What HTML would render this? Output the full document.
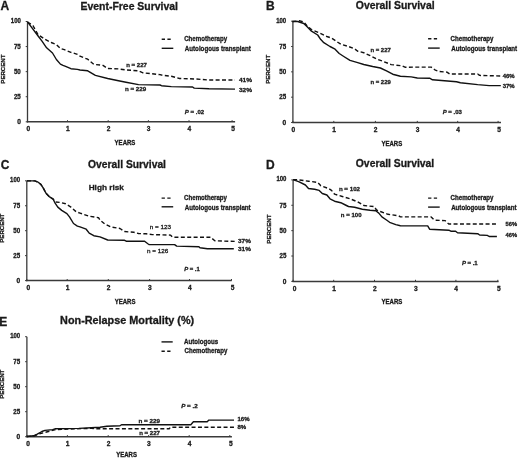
<!DOCTYPE html>
<html><head><meta charset="utf-8"><style>
html,body{margin:0;padding:0;background:#fff;}
body{width:520px;height:458px;overflow:hidden;}
svg{display:block;font-family:"Liberation Sans", sans-serif;will-change:transform;filter:blur(0.45px);}
text{fill:#1a1a1a;stroke:#1a1a1a;stroke-width:0.3px;}
</style></head><body>
<svg width="520" height="458" viewBox="0 0 520 458">
<rect width="520" height="458" fill="#fff"/>
<line x1="27.5" y1="21.5" x2="27.5" y2="122.39999999999999" stroke="#3a3a3a" stroke-width="1.3"/>
<line x1="26.9" y1="121.8" x2="235.1" y2="121.8" stroke="#3a3a3a" stroke-width="1.5"/>
<line x1="25.7" y1="121.8" x2="27.5" y2="121.8" stroke="#3a3a3a" stroke-width="1.0"/>
<text x="20.8" y="124.1" font-size="6.6" font-weight="bold" text-anchor="end">0</text>
<line x1="25.7" y1="96.725" x2="27.5" y2="96.725" stroke="#3a3a3a" stroke-width="1.0"/>
<text x="20.8" y="99.02499999999999" font-size="6.6" font-weight="bold" text-anchor="end" textLength="6.9" lengthAdjust="spacingAndGlyphs">25</text>
<line x1="25.7" y1="71.65" x2="27.5" y2="71.65" stroke="#3a3a3a" stroke-width="1.0"/>
<text x="20.8" y="73.95" font-size="6.6" font-weight="bold" text-anchor="end" textLength="6.9" lengthAdjust="spacingAndGlyphs">50</text>
<line x1="25.7" y1="46.575" x2="27.5" y2="46.575" stroke="#3a3a3a" stroke-width="1.0"/>
<text x="20.8" y="48.875" font-size="6.6" font-weight="bold" text-anchor="end" textLength="6.9" lengthAdjust="spacingAndGlyphs">75</text>
<line x1="25.7" y1="21.5" x2="27.5" y2="21.5" stroke="#3a3a3a" stroke-width="1.0"/>
<text x="20.8" y="23.0" font-size="6.6" font-weight="bold" text-anchor="end" textLength="10.0" lengthAdjust="spacingAndGlyphs">100</text>
<line x1="27.5" y1="120.2" x2="27.5" y2="121.8" stroke="#3a3a3a" stroke-width="1.0"/>
<text x="28.3" y="131.0" font-size="6.6" font-weight="bold" text-anchor="middle">0</text>
<line x1="67.5" y1="120.2" x2="67.5" y2="121.8" stroke="#3a3a3a" stroke-width="1.0"/>
<text x="67.8" y="131.0" font-size="6.6" font-weight="bold" text-anchor="middle">1</text>
<line x1="108.2" y1="120.2" x2="108.2" y2="121.8" stroke="#3a3a3a" stroke-width="1.0"/>
<text x="108.5" y="131.0" font-size="6.6" font-weight="bold" text-anchor="middle">2</text>
<line x1="148.4" y1="120.2" x2="148.4" y2="121.8" stroke="#3a3a3a" stroke-width="1.0"/>
<text x="148.7" y="131.0" font-size="6.6" font-weight="bold" text-anchor="middle">3</text>
<line x1="189.0" y1="120.2" x2="189.0" y2="121.8" stroke="#3a3a3a" stroke-width="1.0"/>
<text x="189.3" y="131.0" font-size="6.6" font-weight="bold" text-anchor="middle">4</text>
<line x1="232.1" y1="120.2" x2="232.1" y2="121.8" stroke="#3a3a3a" stroke-width="1.0"/>
<text x="233.1" y="131.0" font-size="6.6" font-weight="bold" text-anchor="middle">5</text>
<text x="114.6" y="145.0" font-size="6.6" font-weight="bold" text-anchor="start" textLength="20.8" lengthAdjust="spacingAndGlyphs">YEARS</text>
<text transform="translate(5.0,69.15) rotate(-90)" x="0" y="0" font-size="6.2" font-weight="bold" text-anchor="middle" textLength="29" lengthAdjust="spacingAndGlyphs">PERCENT</text>
<text x="0.5" y="10.2" font-size="12" font-weight="bold" text-anchor="start" stroke="#111" stroke-width="0.3">A</text>
<text x="80.5" y="9.7" font-size="10.0" font-weight="bold" text-anchor="start" textLength="97.5" lengthAdjust="spacingAndGlyphs" stroke="#111" stroke-width="0.75">Event-Free Survival</text>
<polyline points="27.5,22 32.9,25.5 38.1,34.7 44.7,39.2 51.2,42.5 56.4,44.5 60.4,48.4 64.3,49.7 70.9,52.3 77.4,54.3 80,56.2 87.7,59.2 93.8,64.3 103,65.4 107.7,68.5 118.5,68.9 126,70 138.5,70.8 143,72.8 160,74.6 161.5,75 171.3,76.3 179.5,78.5 195.9,79 209,80 235,80" fill="none" stroke="#111" stroke-width="1.4" stroke-linejoin="round" stroke-dasharray="4,2.4"/>
<polyline points="27.5,21.8 38.1,36 42,41.2 46.6,47.8 52.5,53 56.4,59.5 60.4,64.1 63,65.4 65.6,66.4 70.9,68.7 77.4,69.4 80,70 87.7,70.8 95.4,75.4 107.7,78.5 118.5,80.8 126,82.3 138.5,84.6 160,85 161.5,85.7 171.3,86.6 192.6,87 194.2,88.1 209,88.8 235,89.1" fill="none" stroke="#111" stroke-width="1.4" stroke-linejoin="round"/>
<line x1="161.7" y1="39.2" x2="171.2" y2="39.2" stroke="#151515" stroke-width="1.4" stroke-dasharray="3.3,2.4"/>
<line x1="161.7" y1="48.3" x2="173.29999999999998" y2="48.3" stroke="#151515" stroke-width="1.4"/>
<text x="184.2" y="41.0" font-size="6.8" font-weight="bold" text-anchor="start" textLength="42.9" lengthAdjust="spacingAndGlyphs">Chemotherapy</text>
<text x="184.79999999999998" y="51.099999999999994" font-size="6.8" font-weight="bold" text-anchor="start" textLength="66.0" lengthAdjust="spacingAndGlyphs">Autologous transplant</text>
<text x="126.2" y="67.3" font-size="6.2" font-weight="bold" text-anchor="start" textLength="20.7" lengthAdjust="spacingAndGlyphs">n = 227</text>
<text x="125.0" y="91.4" font-size="6.2" font-weight="bold" text-anchor="start" textLength="21.2" lengthAdjust="spacingAndGlyphs">n = 229</text>
<text x="239.0" y="82.1" font-size="6.2" font-weight="bold" text-anchor="start" textLength="13" lengthAdjust="spacingAndGlyphs">41%</text>
<text x="239.0" y="91.6" font-size="6.2" font-weight="bold" text-anchor="start" textLength="13" lengthAdjust="spacingAndGlyphs">32%</text>
<text x="184.8" y="114.4" font-size="6.2" font-weight="bold" text-anchor="start" textLength="19.4" lengthAdjust="spacingAndGlyphs"><tspan font-style="italic">P</tspan> = .02</text>
<line x1="292.9" y1="21.2" x2="292.9" y2="123.1" stroke="#3a3a3a" stroke-width="1.3"/>
<line x1="292.29999999999995" y1="122.5" x2="501.0" y2="122.5" stroke="#3a3a3a" stroke-width="1.5"/>
<line x1="291.09999999999997" y1="122.5" x2="292.9" y2="122.5" stroke="#3a3a3a" stroke-width="1.0"/>
<text x="286.2" y="124.8" font-size="6.6" font-weight="bold" text-anchor="end">0</text>
<line x1="291.09999999999997" y1="97.175" x2="292.9" y2="97.175" stroke="#3a3a3a" stroke-width="1.0"/>
<text x="286.2" y="99.475" font-size="6.6" font-weight="bold" text-anchor="end" textLength="6.9" lengthAdjust="spacingAndGlyphs">25</text>
<line x1="291.09999999999997" y1="71.85" x2="292.9" y2="71.85" stroke="#3a3a3a" stroke-width="1.0"/>
<text x="286.2" y="74.14999999999999" font-size="6.6" font-weight="bold" text-anchor="end" textLength="6.9" lengthAdjust="spacingAndGlyphs">50</text>
<line x1="291.09999999999997" y1="46.525000000000006" x2="292.9" y2="46.525000000000006" stroke="#3a3a3a" stroke-width="1.0"/>
<text x="286.2" y="48.825" font-size="6.6" font-weight="bold" text-anchor="end" textLength="6.9" lengthAdjust="spacingAndGlyphs">75</text>
<line x1="291.09999999999997" y1="21.200000000000003" x2="292.9" y2="21.200000000000003" stroke="#3a3a3a" stroke-width="1.0"/>
<text x="286.2" y="22.700000000000003" font-size="6.6" font-weight="bold" text-anchor="end" textLength="10.0" lengthAdjust="spacingAndGlyphs">100</text>
<line x1="292.9" y1="120.9" x2="292.9" y2="122.5" stroke="#3a3a3a" stroke-width="1.0"/>
<text x="293.4" y="131.7" font-size="6.6" font-weight="bold" text-anchor="middle">0</text>
<line x1="333.79999999999995" y1="120.9" x2="333.79999999999995" y2="122.5" stroke="#3a3a3a" stroke-width="1.0"/>
<text x="334.09999999999997" y="131.7" font-size="6.6" font-weight="bold" text-anchor="middle">1</text>
<line x1="375.4" y1="120.9" x2="375.4" y2="122.5" stroke="#3a3a3a" stroke-width="1.0"/>
<text x="375.7" y="131.7" font-size="6.6" font-weight="bold" text-anchor="middle">2</text>
<line x1="417.29999999999995" y1="120.9" x2="417.29999999999995" y2="122.5" stroke="#3a3a3a" stroke-width="1.0"/>
<text x="417.59999999999997" y="131.7" font-size="6.6" font-weight="bold" text-anchor="middle">3</text>
<line x1="457.69999999999993" y1="120.9" x2="457.69999999999993" y2="122.5" stroke="#3a3a3a" stroke-width="1.0"/>
<text x="458.0" y="131.7" font-size="6.6" font-weight="bold" text-anchor="middle">4</text>
<line x1="498.09999999999997" y1="120.9" x2="498.09999999999997" y2="122.5" stroke="#3a3a3a" stroke-width="1.0"/>
<text x="499.09999999999997" y="131.7" font-size="6.6" font-weight="bold" text-anchor="middle">5</text>
<text x="381.4" y="145.7" font-size="6.6" font-weight="bold" text-anchor="start" textLength="20.8" lengthAdjust="spacingAndGlyphs">YEARS</text>
<text transform="translate(270.4,69.35) rotate(-90)" x="0" y="0" font-size="6.2" font-weight="bold" text-anchor="middle" textLength="29" lengthAdjust="spacingAndGlyphs">PERCENT</text>
<text x="265.9" y="10.2" font-size="12" font-weight="bold" text-anchor="start" stroke="#111" stroke-width="0.3">B</text>
<text x="355.8" y="9.0" font-size="10.0" font-weight="bold" text-anchor="start" textLength="78.8" lengthAdjust="spacingAndGlyphs" stroke="#111" stroke-width="0.75">Overall Survival</text>
<polyline points="292.5,21.5 299.2,20.8 303.8,21.9 306.9,25.8 311.5,29.6 319.2,32.7 326.9,36.5 331.5,38.1 336.2,41.2 340.8,44.2 348.5,46.5 354.6,48.8 357.7,51.2 363.8,52.7 369.6,55.4 377.3,59.2 383.5,61.5 391.2,64.6 401.9,65.8 405,67.2 431.2,67.1 435.4,70.2 439.2,71.5 446.9,72.1 449.8,74 477.7,74 479.6,75.4 500.8,76" fill="none" stroke="#111" stroke-width="1.4" stroke-linejoin="round" stroke-dasharray="4,2.4"/>
<polyline points="292.5,21.5 297.7,21.5 303.8,23.5 306.9,26.5 311.5,31.2 317.7,35 320.8,39.6 323.8,42.7 330,46.5 334.6,48.8 339.2,53.5 343.8,56.5 350,60.4 357.7,62.7 363.8,64.5 372.7,66.5 380.4,68 386.5,70.8 392.7,74.2 400.4,76.2 411.2,76.9 417.3,78 429.6,78.2 432.5,79.8 456.5,81.7 460.4,82.7 477.7,84.6 489.2,85.6 500.8,85.6" fill="none" stroke="#111" stroke-width="1.4" stroke-linejoin="round"/>
<line x1="428.1" y1="38.8" x2="437.6" y2="38.8" stroke="#151515" stroke-width="1.4" stroke-dasharray="3.3,2.4"/>
<line x1="428.1" y1="48.1" x2="439.70000000000005" y2="48.1" stroke="#151515" stroke-width="1.4"/>
<text x="450.6" y="40.599999999999994" font-size="6.8" font-weight="bold" text-anchor="start" textLength="42.9" lengthAdjust="spacingAndGlyphs">Chemotherapy</text>
<text x="451.20000000000005" y="50.9" font-size="6.8" font-weight="bold" text-anchor="start" textLength="66.0" lengthAdjust="spacingAndGlyphs">Autologous transplant</text>
<text x="370.4" y="52.4" font-size="6.2" font-weight="bold" text-anchor="start" textLength="20.4" lengthAdjust="spacingAndGlyphs">n = 227</text>
<text x="370.4" y="83.7" font-size="6.2" font-weight="bold" text-anchor="start" textLength="20.4" lengthAdjust="spacingAndGlyphs">n = 229</text>
<text x="502.7" y="77.9" font-size="6.2" font-weight="bold" text-anchor="start" textLength="12" lengthAdjust="spacingAndGlyphs">46%</text>
<text x="502.7" y="88.1" font-size="6.2" font-weight="bold" text-anchor="start" textLength="12" lengthAdjust="spacingAndGlyphs">37%</text>
<text x="442.7" y="113.8" font-size="6.2" font-weight="bold" text-anchor="start" textLength="19.2" lengthAdjust="spacingAndGlyphs"><tspan font-style="italic">P</tspan> = .03</text>
<line x1="26.8" y1="180.8" x2="26.8" y2="281.20000000000005" stroke="#3a3a3a" stroke-width="1.3"/>
<line x1="26.2" y1="280.6" x2="231.7" y2="280.6" stroke="#3a3a3a" stroke-width="1.5"/>
<line x1="25.0" y1="280.6" x2="26.8" y2="280.6" stroke="#3a3a3a" stroke-width="1.0"/>
<text x="20.1" y="282.90000000000003" font-size="6.6" font-weight="bold" text-anchor="end">0</text>
<line x1="25.0" y1="255.65000000000003" x2="26.8" y2="255.65000000000003" stroke="#3a3a3a" stroke-width="1.0"/>
<text x="20.1" y="257.95000000000005" font-size="6.6" font-weight="bold" text-anchor="end" textLength="6.9" lengthAdjust="spacingAndGlyphs">25</text>
<line x1="25.0" y1="230.70000000000002" x2="26.8" y2="230.70000000000002" stroke="#3a3a3a" stroke-width="1.0"/>
<text x="20.1" y="233.00000000000003" font-size="6.6" font-weight="bold" text-anchor="end" textLength="6.9" lengthAdjust="spacingAndGlyphs">50</text>
<line x1="25.0" y1="205.75" x2="26.8" y2="205.75" stroke="#3a3a3a" stroke-width="1.0"/>
<text x="20.1" y="208.05" font-size="6.6" font-weight="bold" text-anchor="end" textLength="6.9" lengthAdjust="spacingAndGlyphs">75</text>
<line x1="25.0" y1="180.8" x2="26.8" y2="180.8" stroke="#3a3a3a" stroke-width="1.0"/>
<text x="20.1" y="182.3" font-size="6.6" font-weight="bold" text-anchor="end" textLength="10.0" lengthAdjust="spacingAndGlyphs">100</text>
<line x1="26.8" y1="279.0" x2="26.8" y2="280.6" stroke="#3a3a3a" stroke-width="1.0"/>
<text x="28.3" y="289.8" font-size="6.6" font-weight="bold" text-anchor="middle">0</text>
<line x1="67.2" y1="279.0" x2="67.2" y2="280.6" stroke="#3a3a3a" stroke-width="1.0"/>
<text x="67.5" y="289.8" font-size="6.6" font-weight="bold" text-anchor="middle">1</text>
<line x1="108.3" y1="279.0" x2="108.3" y2="280.6" stroke="#3a3a3a" stroke-width="1.0"/>
<text x="108.6" y="289.8" font-size="6.6" font-weight="bold" text-anchor="middle">2</text>
<line x1="149.6" y1="279.0" x2="149.6" y2="280.6" stroke="#3a3a3a" stroke-width="1.0"/>
<text x="149.9" y="289.8" font-size="6.6" font-weight="bold" text-anchor="middle">3</text>
<line x1="189.5" y1="279.0" x2="189.5" y2="280.6" stroke="#3a3a3a" stroke-width="1.0"/>
<text x="189.8" y="289.8" font-size="6.6" font-weight="bold" text-anchor="middle">4</text>
<line x1="231.5" y1="279.0" x2="231.5" y2="280.6" stroke="#3a3a3a" stroke-width="1.0"/>
<text x="232.5" y="289.8" font-size="6.6" font-weight="bold" text-anchor="middle">5</text>
<text x="114.7" y="303.8" font-size="6.6" font-weight="bold" text-anchor="start" textLength="20.8" lengthAdjust="spacingAndGlyphs">YEARS</text>
<text transform="translate(4.300000000000001,228.20000000000002) rotate(-90)" x="0" y="0" font-size="6.2" font-weight="bold" text-anchor="middle" textLength="29" lengthAdjust="spacingAndGlyphs">PERCENT</text>
<text x="0.7" y="168.5" font-size="12" font-weight="bold" text-anchor="start" stroke="#111" stroke-width="0.3">C</text>
<text x="88.1" y="167.5" font-size="10.0" font-weight="bold" text-anchor="start" textLength="77.9" lengthAdjust="spacingAndGlyphs" stroke="#111" stroke-width="0.75">Overall Survival</text>
<polyline points="27,180.9 34.8,180.9 38.1,182.2 40.7,184.2 43.3,188.1 46,193.3 49.2,196.6 53.2,199.2 55.1,201.9 60.4,202.5 65.6,203.8 70.9,207.1 76.1,211.7 80,213.1 89.2,216.2 98.5,217.7 100,220 104.6,223.8 110.8,226.9 120,228.5 124.6,231.5 133.8,232.3 138.5,233.5 146.2,233.8 152.3,234.6 170.4,235.1 172.5,237.2 210.6,237.2 214.8,240.8 234.9,241.4" fill="none" stroke="#111" stroke-width="1.4" stroke-linejoin="round" stroke-dasharray="4,2.4"/>
<polyline points="27,180.9 34.8,180.9 38.1,182.2 40.7,184.2 43.3,188.1 46,193.3 49.2,196.6 53.2,199.2 55.1,203.2 57.8,207.1 61.7,210.4 66.9,213.6 69.5,216.9 73.5,223.5 77.4,226.1 80,226.9 86.2,229.2 89.2,233.1 93.8,235.7 100,236.9 107.7,240 124.6,240.3 126.2,241.2 144.6,241.2 148.2,244 149.2,244.6 174.6,244.6 176.7,246.1 198.9,246.7 200,247.8 207.4,248.8 233.8,248.8" fill="none" stroke="#111" stroke-width="1.4" stroke-linejoin="round"/>
<line x1="161.6" y1="198.1" x2="171.1" y2="198.1" stroke="#151515" stroke-width="1.4" stroke-dasharray="3.3,2.4"/>
<line x1="161.6" y1="206.8" x2="173.2" y2="206.8" stroke="#151515" stroke-width="1.4"/>
<text x="184.1" y="199.9" font-size="6.8" font-weight="bold" text-anchor="start" textLength="42.9" lengthAdjust="spacingAndGlyphs">Chemotherapy</text>
<text x="184.7" y="209.60000000000002" font-size="6.8" font-weight="bold" text-anchor="start" textLength="66.0" lengthAdjust="spacingAndGlyphs">Autologous transplant</text>
<text x="88.7" y="190.4" font-size="8.0" font-weight="bold" text-anchor="start" textLength="35.1" lengthAdjust="spacingAndGlyphs">High risk</text>
<text x="149.7" y="228.5" font-size="6.2" font-weight="normal" text-anchor="start" textLength="21.3" lengthAdjust="spacingAndGlyphs">n = 123</text>
<text x="147.1" y="253.3" font-size="6.2" font-weight="normal" text-anchor="start" textLength="21.2" lengthAdjust="spacingAndGlyphs">n = 126</text>
<text x="238.1" y="242.7" font-size="6.2" font-weight="bold" text-anchor="start" textLength="12.7" lengthAdjust="spacingAndGlyphs">37%</text>
<text x="238.1" y="251.4" font-size="6.2" font-weight="bold" text-anchor="start" textLength="12.7" lengthAdjust="spacingAndGlyphs">31%</text>
<text x="184.2" y="271.1" font-size="6.2" font-weight="bold" text-anchor="start" textLength="15.6" lengthAdjust="spacingAndGlyphs"><tspan font-style="italic">P</tspan> = .1</text>
<line x1="293.1" y1="179.9" x2="293.1" y2="282.0" stroke="#3a3a3a" stroke-width="1.3"/>
<line x1="292.5" y1="281.4" x2="498.6" y2="281.4" stroke="#3a3a3a" stroke-width="1.5"/>
<line x1="291.3" y1="281.4" x2="293.1" y2="281.4" stroke="#3a3a3a" stroke-width="1.0"/>
<text x="286.40000000000003" y="283.7" font-size="6.6" font-weight="bold" text-anchor="end">0</text>
<line x1="291.3" y1="256.025" x2="293.1" y2="256.025" stroke="#3a3a3a" stroke-width="1.0"/>
<text x="286.40000000000003" y="258.325" font-size="6.6" font-weight="bold" text-anchor="end" textLength="6.9" lengthAdjust="spacingAndGlyphs">25</text>
<line x1="291.3" y1="230.65" x2="293.1" y2="230.65" stroke="#3a3a3a" stroke-width="1.0"/>
<text x="286.40000000000003" y="232.95000000000002" font-size="6.6" font-weight="bold" text-anchor="end" textLength="6.9" lengthAdjust="spacingAndGlyphs">50</text>
<line x1="291.3" y1="205.27499999999998" x2="293.1" y2="205.27499999999998" stroke="#3a3a3a" stroke-width="1.0"/>
<text x="286.40000000000003" y="207.575" font-size="6.6" font-weight="bold" text-anchor="end" textLength="6.9" lengthAdjust="spacingAndGlyphs">75</text>
<line x1="291.3" y1="179.90000000000003" x2="293.1" y2="179.90000000000003" stroke="#3a3a3a" stroke-width="1.0"/>
<text x="286.40000000000003" y="181.40000000000003" font-size="6.6" font-weight="bold" text-anchor="end" textLength="10.0" lengthAdjust="spacingAndGlyphs">100</text>
<line x1="293.1" y1="279.79999999999995" x2="293.1" y2="281.4" stroke="#3a3a3a" stroke-width="1.0"/>
<text x="294.5" y="290.59999999999997" font-size="6.6" font-weight="bold" text-anchor="middle">0</text>
<line x1="333.70000000000005" y1="279.79999999999995" x2="333.70000000000005" y2="281.4" stroke="#3a3a3a" stroke-width="1.0"/>
<text x="334.0" y="290.59999999999997" font-size="6.6" font-weight="bold" text-anchor="middle">1</text>
<line x1="374.5" y1="279.79999999999995" x2="374.5" y2="281.4" stroke="#3a3a3a" stroke-width="1.0"/>
<text x="374.8" y="290.59999999999997" font-size="6.6" font-weight="bold" text-anchor="middle">2</text>
<line x1="415.5" y1="279.79999999999995" x2="415.5" y2="281.4" stroke="#3a3a3a" stroke-width="1.0"/>
<text x="415.8" y="290.59999999999997" font-size="6.6" font-weight="bold" text-anchor="middle">3</text>
<line x1="455.9" y1="279.79999999999995" x2="455.9" y2="281.4" stroke="#3a3a3a" stroke-width="1.0"/>
<text x="456.20000000000005" y="290.59999999999997" font-size="6.6" font-weight="bold" text-anchor="middle">4</text>
<line x1="497.8" y1="279.79999999999995" x2="497.8" y2="281.4" stroke="#3a3a3a" stroke-width="1.0"/>
<text x="498.8" y="290.59999999999997" font-size="6.6" font-weight="bold" text-anchor="middle">5</text>
<text x="381.5" y="303.79999999999995" font-size="6.6" font-weight="bold" text-anchor="start" textLength="20.8" lengthAdjust="spacingAndGlyphs">YEARS</text>
<text transform="translate(270.6,229.14999999999998) rotate(-90)" x="0" y="0" font-size="6.2" font-weight="bold" text-anchor="middle" textLength="29" lengthAdjust="spacingAndGlyphs">PERCENT</text>
<text x="265.9" y="168.5" font-size="12" font-weight="bold" text-anchor="start" stroke="#111" stroke-width="0.3">D</text>
<text x="355.8" y="166.9" font-size="10.0" font-weight="bold" text-anchor="start" textLength="78.4" lengthAdjust="spacingAndGlyphs" stroke="#111" stroke-width="0.75">Overall Survival</text>
<polyline points="293.1,179.6 299.2,179.9 308.5,181.2 317.7,182.4 320.8,185.8 328.5,188.5 331.5,190.4 334.6,194.2 342.3,196.5 350,198.8 357.7,201.9 363.8,205.5 374.2,206.6 376.5,210 380.4,211.5 388.1,214.3 398.8,215.8 400.4,216.9 431.2,216.9 433.5,219.2 435.4,220.2 445,220.6 448.8,224 496.9,224" fill="none" stroke="#111" stroke-width="1.4" stroke-linejoin="round" stroke-dasharray="4,2.4"/>
<polyline points="293.1,179.6 299.2,181.9 305.4,185 308.5,188.5 314.6,189.2 319.2,190.4 322.3,193.5 326.9,195 330,198.8 334.6,201.2 340.8,202.7 345.4,205 348.5,206.5 354.6,207.3 362.3,209.2 370,210.2 375.8,210.8 378.8,213.1 381.9,216.9 386.5,220 389.6,222.3 395.8,224.6 400.4,225.8 427.7,225.9 429.6,229.2 448.8,230.2 450.8,231.2 455.6,231.2 457.5,232.7 477.7,233.7 479.6,235 487.3,235.4 489.2,236.5 496.9,236.5" fill="none" stroke="#111" stroke-width="1.4" stroke-linejoin="round"/>
<line x1="428.1" y1="198.1" x2="437.6" y2="198.1" stroke="#151515" stroke-width="1.4" stroke-dasharray="3.3,2.4"/>
<line x1="428.1" y1="207.1" x2="439.70000000000005" y2="207.1" stroke="#151515" stroke-width="1.4"/>
<text x="450.6" y="199.9" font-size="6.8" font-weight="bold" text-anchor="start" textLength="42.9" lengthAdjust="spacingAndGlyphs">Chemotherapy</text>
<text x="451.20000000000005" y="209.9" font-size="6.8" font-weight="bold" text-anchor="start" textLength="65.3" lengthAdjust="spacingAndGlyphs">Autologous transplant</text>
<text x="338.9" y="190.7" font-size="6.2" font-weight="bold" text-anchor="start" textLength="21.1" lengthAdjust="spacingAndGlyphs">n = 102</text>
<text x="340.8" y="217.2" font-size="6.2" font-weight="bold" text-anchor="start" textLength="20.7" lengthAdjust="spacingAndGlyphs">n = 100</text>
<text x="505.6" y="226.3" font-size="6.2" font-weight="bold" text-anchor="start" textLength="11.5" lengthAdjust="spacingAndGlyphs">56%</text>
<text x="505.6" y="236.9" font-size="6.2" font-weight="bold" text-anchor="start" textLength="11.5" lengthAdjust="spacingAndGlyphs">46%</text>
<text x="461.9" y="265.4" font-size="6.2" font-weight="bold" text-anchor="start" textLength="15.8" lengthAdjust="spacingAndGlyphs"><tspan font-style="italic">P</tspan> = .1</text>
<line x1="26.9" y1="336.7" x2="26.9" y2="437.3" stroke="#3a3a3a" stroke-width="1.3"/>
<line x1="26.299999999999997" y1="436.7" x2="231.9" y2="436.7" stroke="#3a3a3a" stroke-width="1.5"/>
<line x1="25.099999999999998" y1="436.7" x2="26.9" y2="436.7" stroke="#3a3a3a" stroke-width="1.0"/>
<text x="20.2" y="439.0" font-size="6.6" font-weight="bold" text-anchor="end">0</text>
<line x1="25.099999999999998" y1="411.7" x2="26.9" y2="411.7" stroke="#3a3a3a" stroke-width="1.0"/>
<text x="20.2" y="414.0" font-size="6.6" font-weight="bold" text-anchor="end" textLength="6.9" lengthAdjust="spacingAndGlyphs">25</text>
<line x1="25.099999999999998" y1="386.7" x2="26.9" y2="386.7" stroke="#3a3a3a" stroke-width="1.0"/>
<text x="20.2" y="389.0" font-size="6.6" font-weight="bold" text-anchor="end" textLength="6.9" lengthAdjust="spacingAndGlyphs">50</text>
<line x1="25.099999999999998" y1="361.7" x2="26.9" y2="361.7" stroke="#3a3a3a" stroke-width="1.0"/>
<text x="20.2" y="364.0" font-size="6.6" font-weight="bold" text-anchor="end" textLength="6.9" lengthAdjust="spacingAndGlyphs">75</text>
<line x1="25.099999999999998" y1="336.7" x2="26.9" y2="336.7" stroke="#3a3a3a" stroke-width="1.0"/>
<text x="20.2" y="338.2" font-size="6.6" font-weight="bold" text-anchor="end" textLength="10.0" lengthAdjust="spacingAndGlyphs">100</text>
<line x1="26.9" y1="435.09999999999997" x2="26.9" y2="436.7" stroke="#3a3a3a" stroke-width="1.0"/>
<text x="28.2" y="446.2" font-size="6.6" font-weight="bold" text-anchor="middle">0</text>
<line x1="67.4" y1="435.09999999999997" x2="67.4" y2="436.7" stroke="#3a3a3a" stroke-width="1.0"/>
<text x="67.69999999999999" y="446.2" font-size="6.6" font-weight="bold" text-anchor="middle">1</text>
<line x1="108.19999999999999" y1="435.09999999999997" x2="108.19999999999999" y2="436.7" stroke="#3a3a3a" stroke-width="1.0"/>
<text x="108.5" y="446.2" font-size="6.6" font-weight="bold" text-anchor="middle">2</text>
<line x1="148.6" y1="435.09999999999997" x2="148.6" y2="436.7" stroke="#3a3a3a" stroke-width="1.0"/>
<text x="148.9" y="446.2" font-size="6.6" font-weight="bold" text-anchor="middle">3</text>
<line x1="189.2" y1="435.09999999999997" x2="189.2" y2="436.7" stroke="#3a3a3a" stroke-width="1.0"/>
<text x="189.5" y="446.2" font-size="6.6" font-weight="bold" text-anchor="middle">4</text>
<line x1="229.8" y1="435.09999999999997" x2="229.8" y2="436.7" stroke="#3a3a3a" stroke-width="1.0"/>
<text x="230.8" y="446.2" font-size="6.6" font-weight="bold" text-anchor="middle">5</text>
<text x="116.19999999999999" y="457.3" font-size="6.6" font-weight="bold" text-anchor="start" textLength="20.8" lengthAdjust="spacingAndGlyphs">YEARS</text>
<text transform="translate(4.399999999999999,384.2) rotate(-90)" x="0" y="0" font-size="6.2" font-weight="bold" text-anchor="middle" textLength="29" lengthAdjust="spacingAndGlyphs">PERCENT</text>
<text x="-0.8" y="325.8" font-size="12" font-weight="bold" text-anchor="start" stroke="#111" stroke-width="0.3">E</text>
<text x="60.1" y="324.4" font-size="10.0" font-weight="bold" text-anchor="start" textLength="134.1" lengthAdjust="spacingAndGlyphs" stroke="#111" stroke-width="0.75">Non-Relapse Mortality (%)</text>
<polyline points="26.9,436.5 34.2,435.8 40.4,433.5 45,432.4 49.6,431.2 55.8,429.6 91.2,428.3 95.8,428.8 169.2,428.8 170.5,427.2 234,427.2" fill="none" stroke="#111" stroke-width="1.4" stroke-linejoin="round" stroke-dasharray="4,2.4"/>
<polyline points="26.9,436.5 33.5,435.8 37.3,434.2 41.9,431.5 45,430.4 52.7,429.6 55,428.8 78.8,428.4 91.2,427.8 100,427.3 106.9,426.2 120,425.8 121.5,424.7 190.8,424.8 193.4,421.8 207.2,421.8 208.9,420.1 234,420.1" fill="none" stroke="#111" stroke-width="1.4" stroke-linejoin="round"/>
<line x1="161.5" y1="341.9" x2="172.7" y2="341.9" stroke="#151515" stroke-width="1.4"/>
<line x1="161.5" y1="351.2" x2="171.0" y2="351.2" stroke="#151515" stroke-width="1.4" stroke-dasharray="3.3,2.4"/>
<text x="184.0" y="343.7" font-size="6.8" font-weight="bold" text-anchor="start" textLength="34.2" lengthAdjust="spacingAndGlyphs">Autologous</text>
<text x="184.6" y="353.4" font-size="6.8" font-weight="bold" text-anchor="start" textLength="42.7" lengthAdjust="spacingAndGlyphs">Chemotherapy</text>
<text x="138.5" y="422.7" font-size="6.2" font-weight="bold" text-anchor="start" textLength="21.5" lengthAdjust="spacingAndGlyphs">n = 229</text>
<text x="139.2" y="434.6" font-size="6.2" font-weight="bold" text-anchor="start" textLength="20.8" lengthAdjust="spacingAndGlyphs">n = 227</text>
<text x="237.5" y="420.8" font-size="6.2" font-weight="bold" text-anchor="start" textLength="12.1" lengthAdjust="spacingAndGlyphs">16%</text>
<text x="237.5" y="429.4" font-size="6.2" font-weight="bold" text-anchor="start" textLength="8.7" lengthAdjust="spacingAndGlyphs">8%</text>
<text x="181.2" y="407.6" font-size="6.2" font-weight="bold" text-anchor="start" textLength="16.5" lengthAdjust="spacingAndGlyphs"><tspan font-style="italic">P</tspan> = .2</text>
</svg>
</body></html>
